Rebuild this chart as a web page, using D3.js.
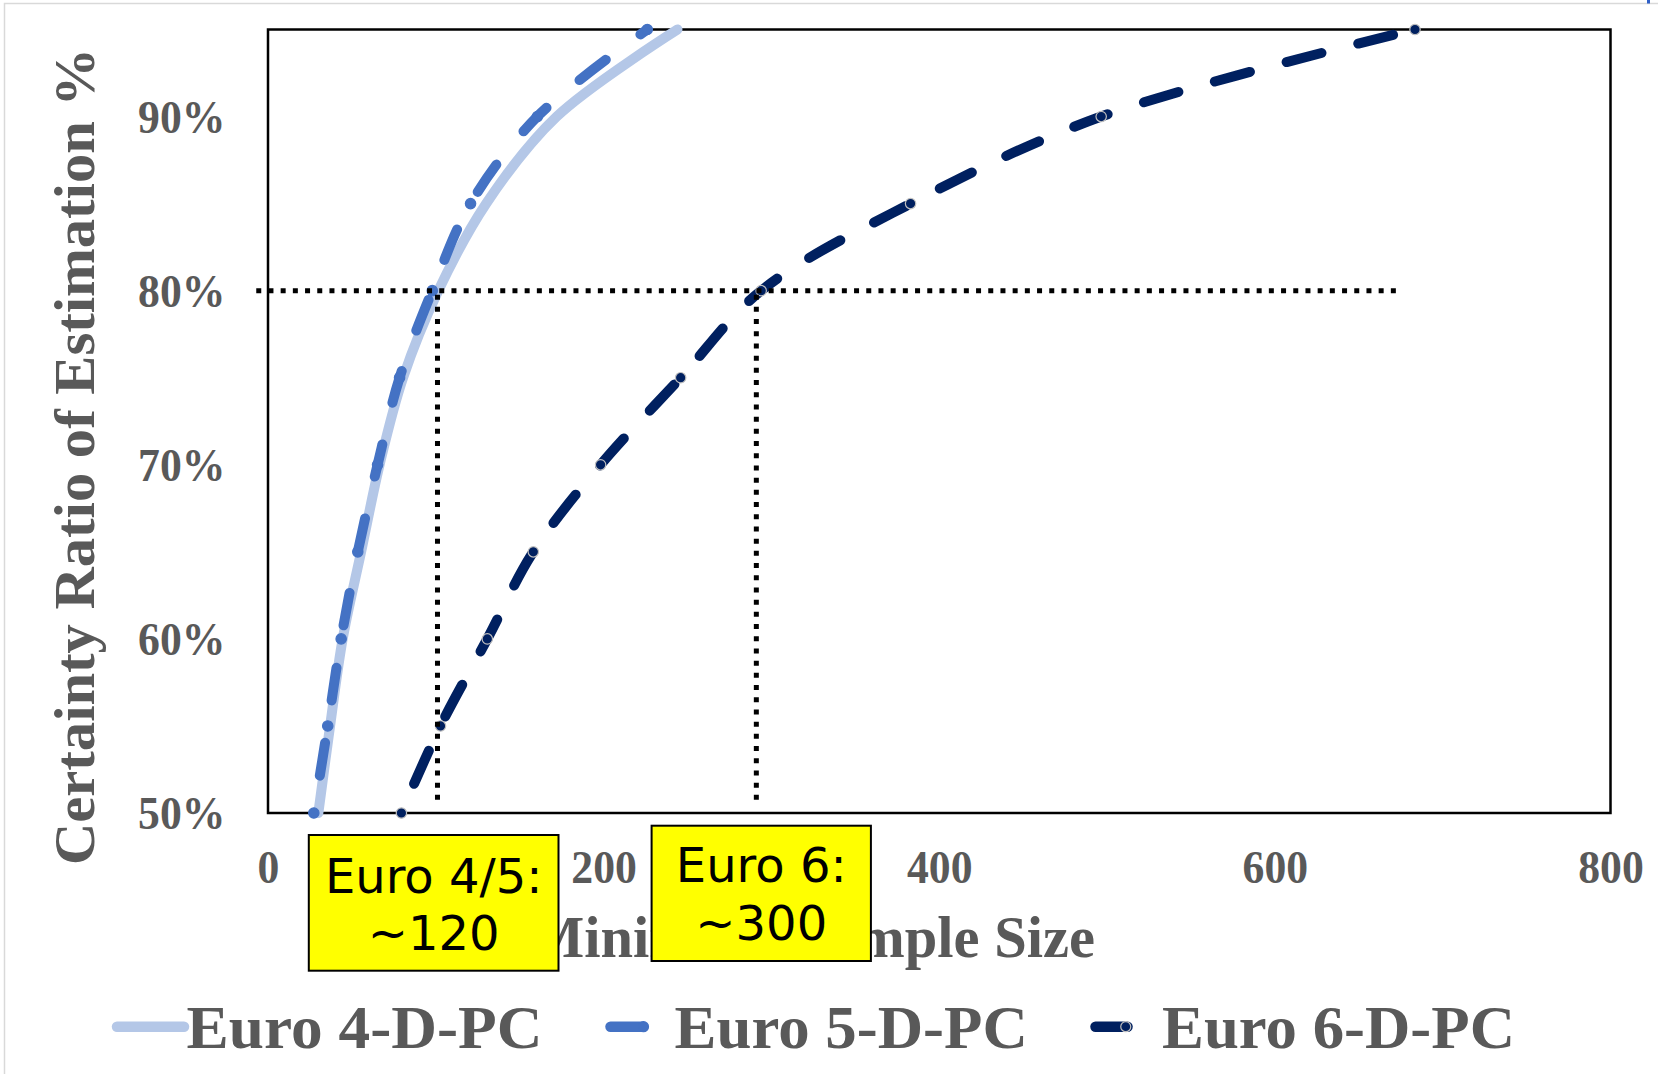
<!DOCTYPE html>
<html>
<head>
<meta charset="utf-8">
<script src="https://cdn.jsdelivr.net/npm/d3@7/dist/d3.min.js"></script>
<style>
  html, body { margin: 0; padding: 0; background: #ffffff; }
  svg { display: block; }
</style>
</head>
<body>
<svg id="chart" width="1658" height="1074"></svg>
<script>
// Certainty ratio levels (y) and the minimum sample size reached at each level (x)
const certaintyLevels = [0.50, 0.55, 0.60, 0.65, 0.70, 0.75, 0.80, 0.85, 0.90, 0.95];
const euro4Sizes = [30, 37, 44.5, 55.5, 66.5, 80.5, 101.5, 130, 172, 244];
const euro5Sizes = [27.3, 35.6, 43.6, 53.5, 65.3, 78.4, 97.9, 120.7, 160.5, 226];
const euro6Sizes = [79.5, 102.8, 130.7, 158.1, 198.2, 245.9, 293.9, 382.9, 496.5, 683.5];

const seriesNames = ["Euro 4-D-PC", "Euro 5-D-PC", "Euro 6-D-PC"];
const xTicks = [0, 200, 400, 600, 800];
const yTicks = [0.5, 0.6, 0.7, 0.8, 0.9];

// Guide lines at the 80% certainty target
const targetCertainty = 0.80;
const euro45Crossing = 101;
const euro6Crossing = 291;
const guideStart = -7;
const guideEnd = 676;

const annotationLines = [["Euro 4/5:", "~120"], ["Euro 6:", "~300"]];

const W = 1658, H = 1074;
const plot = { left: 268, right: 1610.5, top: 29.5, bottom: 813 };
const grey = "#595959";
const serif = "'Liberation Serif', 'Times New Roman', serif";

const svg = d3.select("#chart");

// chart area border (top and left edges fall inside the canvas)
svg.append("rect").attr("x", 4.5).attr("y", 3.5).attr("width", W + 10).attr("height", H + 10)
  .attr("fill", "#ffffff").attr("stroke", "#d9d9d9").attr("stroke-width", 1.5);
svg.append("rect").attr("x", 1647).attr("y", 0).attr("width", 3).attr("height", 3.5).attr("fill", "#2f5fc8");

const x = d3.scaleLinear().domain([0, 800]).range([plot.left, plot.right]);
const y = d3.scaleLinear().domain([0.5, 0.95]).range([plot.bottom, plot.top]);

// squeeze helper for the narrow serif look
function squeeze(sel, k) {
  sel.each(function () {
    const len = this.getComputedTextLength();
    d3.select(this).attr("textLength", len * k).attr("lengthAdjust", "spacingAndGlyphs");
  });
}

// axes (labels only; frame drawn as a rectangle)
const xAxis = svg.append("g").attr("transform", `translate(0,${plot.bottom})`)
  .call(d3.axisBottom(x).tickValues(xTicks).tickSize(0).tickPadding(0).tickFormat(d3.format("d")));
xAxis.select(".domain").remove();
xAxis.selectAll("text").attr("y", 70).attr("dy", null)
  .attr("fill", grey).style("font-family", serif).style("font-weight", "bold").style("font-size", "47px");
squeeze(xAxis.selectAll("text"), 0.93);

const yAxis = svg.append("g").attr("transform", `translate(${plot.left},0)`)
  .call(d3.axisLeft(y).tickValues(yTicks).tickSize(0).tickPadding(0).tickFormat(d3.format(".0%")));
yAxis.select(".domain").remove();
yAxis.selectAll("text").attr("x", -42.5).attr("dy", "0.34em")
  .attr("fill", grey).style("font-family", serif).style("font-weight", "bold").style("font-size", "47px");
squeeze(yAxis.selectAll("text"), 0.93);

// plot frame
svg.append("rect").attr("x", plot.left).attr("y", plot.top)
  .attr("width", plot.right - plot.left).attr("height", plot.bottom - plot.top)
  .attr("fill", "none").attr("stroke", "#000").attr("stroke-width", 2.5);

// axis titles
svg.append("text").attr("x", 812).attr("y", 957).attr("text-anchor", "middle")
  .attr("fill", grey).style("font-family", serif).style("font-weight", "bold").style("font-size", "60px")
  .attr("textLength", 566).attr("lengthAdjust", "spacingAndGlyphs")
  .text("Minimum Sample Size");

svg.append("text").attr("transform", "translate(94,456.5) rotate(-90)").attr("text-anchor", "middle")
  .attr("fill", grey).style("font-family", serif).style("font-weight", "bold").style("font-size", "57px")
  .attr("textLength", 817).attr("lengthAdjust", "spacingAndGlyphs")
  .text("Certainty Ratio of Estimation %");

// series
const series = [
  { name: seriesNames[0], sizes: euro4Sizes, color: "#B4C7E7", width: 10, dash: null, offset: 0, marker: false },
  { name: seriesNames[1], sizes: euro5Sizes, color: "#4472C4", width: 10, dash: "33 43", offset: 38, marker: true, markerStroke: "#4472C4" },
  { name: seriesNames[2], sizes: euro6Sizes, color: "#002060", width: 10, dash: "36 38", offset: 42, marker: true, markerStroke: "#BFBFBF" }
];

const line = d3.line()
  .x(d => x(d.size))
  .y(d => y(d.level))
  .curve(d3.curveCatmullRom.alpha(0.5));

series.forEach(s => {
  const pts = certaintyLevels.map((lv, i) => ({ level: lv, size: s.sizes[i] }));
  svg.append("path").datum(pts)
    .attr("d", line)
    .attr("fill", "none")
    .attr("stroke", s.color)
    .attr("stroke-width", s.width)
    .attr("stroke-linecap", "round")
    .attr("stroke-linejoin", "round")
    .attr("stroke-dasharray", s.dash)
    .attr("stroke-dashoffset", s.offset);
  if (s.marker) {
    svg.append("g").selectAll("circle").data(pts).join("circle")
      .attr("cx", d => x(d.size)).attr("cy", d => y(d.level)).attr("r", 5.2)
      .attr("fill", s.color).attr("stroke", s.markerStroke).attr("stroke-width", 1.2);
  }
});

// 80% guide lines
const guide = svg.append("g").attr("stroke", "#000").attr("stroke-width", 5)
  .attr("stroke-dasharray", "5 7.2").attr("fill", "none");
guide.append("line")
  .attr("x1", x(guideStart)).attr("x2", x(guideEnd))
  .attr("y1", y(targetCertainty)).attr("y2", y(targetCertainty));
[euro45Crossing, euro6Crossing].forEach(v => {
  guide.append("line")
    .attr("x1", x(v)).attr("x2", x(v))
    .attr("y1", y(targetCertainty) + 4).attr("y2", y(0.5) - 8);
});

// annotation boxes
const boxes = [
  { x0: 308.8, y0: 835, x1: 558.5, y1: 970.7, base: [893, 950] },
  { x0: 651.6, y0: 825.7, x1: 870.9, y1: 961, base: [882, 940] }
];
boxes.forEach((b, i) => {
  svg.append("rect").attr("x", b.x0).attr("y", b.y0)
    .attr("width", b.x1 - b.x0).attr("height", b.y1 - b.y0)
    .attr("fill", "#FFFF00").attr("stroke", "#000").attr("stroke-width", 2);
  annotationLines[i].forEach((t, j) => {
    svg.append("text").attr("x", (b.x0 + b.x1) / 2).attr("y", b.base[j])
      .attr("text-anchor", "middle").attr("fill", "#000")
      .style("font-family", "'DejaVu Sans', Verdana, sans-serif").style("font-size", "48px")
      .text(t);
  });
});

// legend
const legendY = 1026.7;
const legendItems = [
  { sym: [117, 184], text: [186.6, 542.5] },
  { sym: [610.5, 676.5], text: [674.5, 1027.8] },
  { sym: [1095.5, 1156], text: [1162, 1515] }
];
series.forEach((s, i) => {
  const it = legendItems[i];
  svg.append("line").attr("x1", it.sym[0]).attr("x2", it.sym[1])
    .attr("y1", legendY).attr("y2", legendY)
    .attr("stroke", s.color).attr("stroke-width", 10.5)
    .attr("stroke-linecap", "round").attr("stroke-dasharray", s.dash ? "32 60" : null);
  if (s.marker) {
    svg.append("circle").attr("cx", (it.sym[0] + it.sym[1]) / 2).attr("cy", legendY).attr("r", 5)
      .attr("fill", s.color).attr("stroke", s.markerStroke).attr("stroke-width", 1.2);
  }
  svg.append("text").attr("x", it.text[0]).attr("y", 1048)
    .attr("fill", grey).style("font-family", serif).style("font-weight", "bold").style("font-size", "62px")
    .attr("textLength", it.text[1] - it.text[0]).attr("lengthAdjust", "spacingAndGlyphs")
    .text(s.name);
});
</script>
</body>
</html>
